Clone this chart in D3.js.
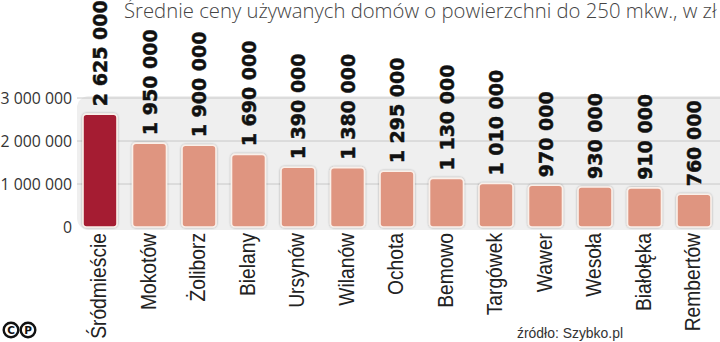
<!DOCTYPE html>
<html><head><meta charset="utf-8">
<script src="https://cdn.jsdelivr.net/npm/d3@7/dist/d3.min.js"></script>
<style>
html,body{margin:0;padding:0;background:#fff;}
svg{display:block;}
</style></head>
<body>
<svg id="chart" width="720" height="342"></svg>
<script>
const categories = ["Śródmieście","Mokotów","Żoliborz","Bielany","Ursynów","Wilanów","Ochota","Bemowo","Targówek","Wawer","Wesoła","Białołęka","Rembertów"];
const values = [2625000,1950000,1900000,1690000,1390000,1380000,1295000,1130000,1010000,970000,930000,910000,760000];
const valueLabels = ["2 625 000","1 950 000","1 900 000","1 690 000","1 390 000","1 380 000","1 295 000","1 130 000","1 010 000","970 000","930 000","910 000","760 000"];
const yTicks = [0,1000000,2000000,3000000];
const yTickLabels = ["0","1 000 000","2 000 000","3 000 000"];
const title = "Średnie ceny używanych domów o powierzchni do 250 mkw., w zł";
const source = "źródło: Szybko.pl";

const svg = d3.select("#chart");
const y = d3.scaleLinear().domain([0,3000000]).range([227,98]);
const x = d3.scalePoint().domain(categories).range([100,694]);
const bw = 34;

const defs = svg.append("defs");
const f = defs.append("filter").attr("id","sh").attr("x","-20%").attr("y","-20%").attr("width","140%").attr("height","140%");
f.append("feDropShadow").attr("dx",0).attr("dy",0).attr("stdDeviation",0.8).attr("flood-color","#000").attr("flood-opacity",0.35);

// panel
svg.append("rect").attr("x",77).attr("y",96).attr("width",660).attr("height",134).attr("rx",12).attr("fill","#efefef");

// gridlines
svg.append("g").selectAll("line").data(yTicks.filter(d=>d>0)).join("line")
  .attr("x1",77).attr("x2",720).attr("y1",d=>y(d)).attr("y2",d=>y(d))
  .attr("stroke","#c8c8c8").attr("stroke-width",1);

// y axis labels
const yAxis = d3.axisLeft(y).tickValues(yTicks).tickSize(0).tickPadding(0)
  .tickFormat((d,i)=>yTickLabels[i]);
const ga = svg.append("g").attr("transform","translate(72,0)").call(yAxis);
ga.select(".domain").remove();
ga.selectAll("text").attr("font-family","'Open Sans', sans-serif").attr("font-size",15.8).attr("fill","#333").attr("dy","0.35em");

// bars
svg.append("g").selectAll("rect").data(values).join("rect")
  .attr("x",(d,i)=>x(categories[i])-bw/2).attr("width",bw)
  .attr("y",d=>y(d)).attr("height",d=>y(0)-y(d))
  .attr("rx",3.5)
  .attr("fill",(d,i)=>i===0?"#a51c32":"#df9580")
  .attr("stroke","#faf0ea").attr("stroke-width",1.6)
  .attr("filter","url(#sh)");

// value labels
svg.append("g").selectAll("text").data(values).join("text")
  .attr("transform",(d,i)=>`translate(${x(categories[i])+7},${y(d)-8}) rotate(-90)`)
  .attr("text-anchor","start")
  .attr("font-family","'DejaVu Sans', sans-serif").attr("font-weight","bold")
  .attr("font-size",19).attr("fill","#111")
  .attr("stroke","#111").attr("stroke-width",0.5)
  .text((d,i)=>valueLabels[i]);

// category labels (condensed along the text direction)
svg.append("g").selectAll("text").data(categories).join("text")
  .attr("transform",d=>`translate(${x(d)+6},233) rotate(-90) scale(0.875,1)`)
  .attr("text-anchor","end")
  .attr("font-family","'Liberation Sans', Arial, sans-serif")
  .attr("font-size",22).attr("fill","#222")
  .text(d=>d);

// title
svg.append("text").attr("x",124).attr("y",18)
  .attr("font-family","'Open Sans', sans-serif").attr("font-weight",300)
  .attr("font-size",20.3).attr("fill","#444").text(title);

// source
svg.append("text").attr("x",517).attr("y",338)
  .attr("font-family","'Liberation Sans', Arial, sans-serif")
  .attr("font-size",15).attr("fill","#333")
  .attr("textLength",106).attr("lengthAdjust","spacingAndGlyphs").text(source);

// copyright marks
const marks = [["C",11],["P",28]];
const gm = svg.append("g");
marks.forEach(([t,cx])=>{
  gm.append("circle").attr("cx",cx).attr("cy",330).attr("r",7.3).attr("fill","none").attr("stroke","#111").attr("stroke-width",2.4);
  gm.append("text").attr("x",cx).attr("y",330).attr("dy","0.36em").attr("text-anchor","middle")
    .attr("font-family","'DejaVu Sans', sans-serif").attr("font-weight","bold").attr("font-size",10.5).attr("fill","#111").text(t);
});
</script>
</body></html>
